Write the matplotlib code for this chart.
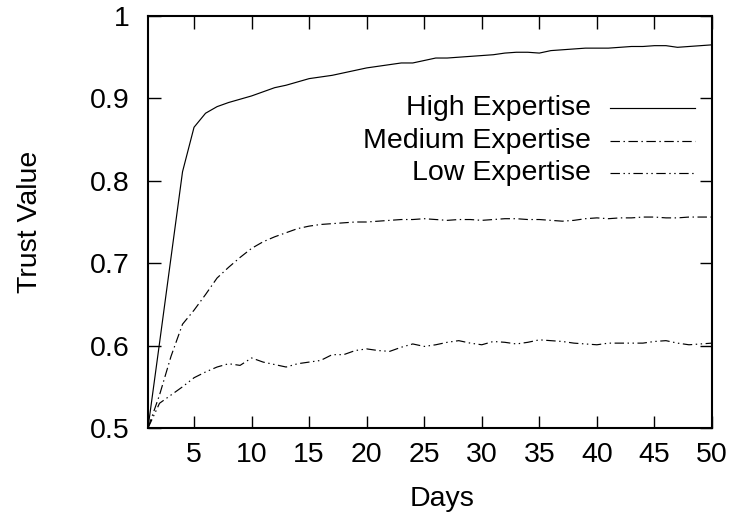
import matplotlib
matplotlib.use("Agg")
import matplotlib.pyplot as plt
from matplotlib.lines import Line2D

days = list(range(1, 51))

high = [0.500, 0.603, 0.707, 0.811, 0.865, 0.882, 0.890, 0.895, 0.899, 0.903,
        0.908, 0.913, 0.916, 0.920, 0.924, 0.926, 0.928, 0.931, 0.934, 0.937,
        0.939, 0.941, 0.943, 0.943, 0.946, 0.949, 0.949, 0.950, 0.951, 0.952,
        0.953, 0.955, 0.956, 0.956, 0.955, 0.958, 0.959, 0.960, 0.961, 0.961,
        0.961, 0.962, 0.963, 0.963, 0.964, 0.964, 0.962, 0.963, 0.964, 0.965]

medium = [0.500, 0.540, 0.587, 0.626, 0.643, 0.662, 0.682, 0.695, 0.707, 0.718,
          0.726, 0.732, 0.737, 0.742, 0.745, 0.747, 0.748, 0.749, 0.750, 0.750,
          0.751, 0.752, 0.753, 0.753, 0.754, 0.753, 0.752, 0.753, 0.753, 0.752,
          0.753, 0.754, 0.754, 0.753, 0.753, 0.752, 0.751, 0.752, 0.754, 0.755,
          0.754, 0.755, 0.755, 0.756, 0.756, 0.755, 0.755, 0.756, 0.756, 0.756]

low = [0.500, 0.530, 0.540, 0.550, 0.561, 0.568, 0.574, 0.578, 0.576, 0.585,
       0.580, 0.577, 0.574, 0.578, 0.580, 0.582, 0.589, 0.589, 0.594, 0.596,
       0.594, 0.593, 0.598, 0.602, 0.599, 0.601, 0.604, 0.606, 0.603, 0.601,
       0.605, 0.604, 0.602, 0.604, 0.607, 0.606, 0.605, 0.603, 0.602, 0.601,
       0.603, 0.603, 0.603, 0.603, 0.605, 0.606, 0.603, 0.601, 0.602, 0.603]

series_labels = ["High Expertise", "Medium Expertise", "Low Expertise"]
x_ticks = [5, 10, 15, 20, 25, 30, 35, 40, 45, 50]
y_ticks = [0.5, 0.6, 0.7, 0.8, 0.9, 1.0]
y_tick_labels = ["0.5", "0.6", "0.7", "0.8", "0.9", "1"]

plt.rcParams['font.family'] = ['Liberation Sans', 'DejaVu Sans']
FS = 20.5

fig = plt.figure(figsize=(7.33, 5.21), dpi=100)
ax = fig.add_axes([148/733, 1 - 428/521, (712-148)/733, (428-16)/521])

styles = [
    dict(linestyle='-'),
    dict(linestyle=(0, (8, 3, 1.2, 3))),
    dict(linestyle=(0, (8, 3, 1.2, 3, 1.2, 3))),
]
lw = 0.85
for vals, st in zip([high, medium, low], styles):
    ax.plot(days, vals, color='black', lw=lw, **st)

ax.set_xlim(1, 50)
ax.set_ylim(0.5, 1.0)
ax.set_xticks(x_ticks)
ax.set_yticks(y_ticks)
ax.set_yticklabels(y_tick_labels)
ax.tick_params(direction='in', length=9, width=1.0, top=True, right=True,
               labelsize=FS)
ax.tick_params(axis='y', pad=13)
ax.tick_params(axis='x', pad=10)
for sp in ax.spines.values():
    sp.set_linewidth(1.5)

ax.set_xlabel("Days", fontsize=FS)
ax.set_ylabel("Trust Value", fontsize=FS)
ax.xaxis.set_label_coords(0.522, -0.14)
ax.yaxis.set_label_coords(-0.186, 0.5)

# legend (gnuplot-style: right-aligned text, sample on the right)
leg_y = [0.777, 0.697, 0.619]
for lab, st, yy in zip(series_labels, styles, leg_y):
    ax.text(0.786, yy, lab, transform=ax.transAxes, ha='right', va='center',
            fontsize=FS)
    ax.add_line(Line2D([0.819, 0.970], [yy, yy], transform=ax.transAxes,
                       color='black', lw=lw, **st))

fig.savefig("out.png", dpi=100)
